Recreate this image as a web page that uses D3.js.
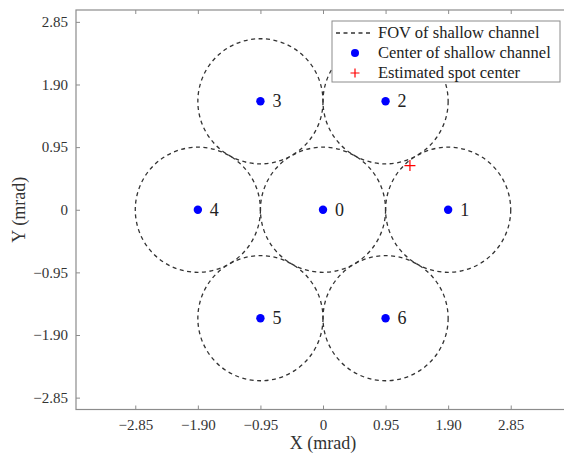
<!DOCTYPE html>
<html>
<head>
<meta charset="utf-8">
<script src="https://cdn.jsdelivr.net/npm/d3@7"></script>
<style>
  body { margin: 0; background: #fff; }
</style>
</head>
<body>
<div id="chart-area"></div>
<script>
const WIDTH = 564;
const HEIGHT = 458;
const SERIF = "Liberation Serif, Times New Roman, serif";
const TICKS = [-2.85, -1.90, -0.95, 0, 0.95, 1.90, 2.85];
const CHANNEL_IDS = ["0", "1", "2", "3", "4", "5", "6"];
const CHANNEL_X = [0, 1.90, 0.95, -0.95, -1.90, -0.95, 0.95];
const CHANNEL_Y = [0, 0, 1.645, 1.645, 0, -1.645, -1.645];
const FOV_RADIUS = 0.95;
const SPOT = [1.32, 0.67];
const LEGEND_LABELS = ["FOV of shallow channel", "Center of shallow channel", "Estimated spot center"];

const svg = d3.select("#chart-area").append("svg")
    .attr("width", WIDTH)
    .attr("height", HEIGHT)
    .attr("font-family", SERIF);

const x = d3.scaleLinear().domain([-3.75, 3.75]).range([76, 570]);
const y = d3.scaleLinear().domain([-3.03, 3.03]).range([409.5, 10]);

const fmt = (d) => d === 0 ? "0" : d3.format(".2f")(d);

// frame (right side falls outside the picture)
const axisColor = "#8c8c8c";
svg.append("rect")
    .attr("x", x(-3.75)).attr("y", y(3.03))
    .attr("width", x(3.75) - x(-3.75))
    .attr("height", y(-3.03) - y(3.03))
    .attr("fill", "none")
    .attr("stroke", axisColor)
    .attr("stroke-width", 1.2);

const bottomAxis = svg.append("g")
    .attr("transform", "translate(0," + y(-3.03) + ")")
    .call(d3.axisBottom(x).tickValues(TICKS).tickFormat(fmt).tickSizeInner(-4).tickSizeOuter(0).tickPadding(10));
const topAxis = svg.append("g")
    .attr("transform", "translate(0," + y(3.03) + ")")
    .call(d3.axisTop(x).tickValues(TICKS).tickFormat("").tickSizeInner(-4).tickSizeOuter(0));
const leftAxis = svg.append("g")
    .attr("transform", "translate(" + x(-3.75) + ",0)")
    .call(d3.axisLeft(y).tickValues(TICKS).tickFormat(fmt).tickSizeInner(-4).tickSizeOuter(0).tickPadding(8));

[bottomAxis, topAxis, leftAxis].forEach((g) => {
    g.attr("font-family", SERIF).attr("font-size", 15);
    g.select(".domain").remove();
    g.selectAll("line").attr("stroke", axisColor);
    g.selectAll("text").attr("fill", "#333");
});

svg.append("text")
    .attr("x", x(0)).attr("y", 449)
    .attr("text-anchor", "middle")
    .attr("fill", "#333")
    .attr("font-size", 18)
    .text("X (mrad)");

svg.append("text")
    .attr("transform", "translate(25," + y(0) + ")rotate(-90)")
    .attr("text-anchor", "middle")
    .attr("fill", "#333")
    .attr("font-size", 18)
    .text("Y (mrad)");

const channels = CHANNEL_IDS.map((id, i) => ({ id: id, x: CHANNEL_X[i], y: CHANNEL_Y[i] }));
const pxPerUnit = x(1) - x(0);

svg.selectAll("circle.fov")
    .data(channels)
    .enter()
    .append("circle")
    .attr("class", "fov")
    .attr("cx", (d) => x(d.x))
    .attr("cy", (d) => y(d.y))
    .attr("r", FOV_RADIUS * pxPerUnit)
    .attr("fill", "none")
    .attr("stroke", "#333")
    .attr("stroke-width", 1.3)
    .attr("stroke-dasharray", "4,3.5");

svg.selectAll("circle.center")
    .data(channels)
    .enter()
    .append("circle")
    .attr("class", "center")
    .attr("cx", (d) => x(d.x))
    .attr("cy", (d) => y(d.y))
    .attr("r", 4.2)
    .attr("fill", "#0000ff");

svg.selectAll("text.id")
    .data(channels)
    .enter()
    .append("text")
    .attr("class", "id")
    .attr("x", (d) => x(d.x) + 12)
    .attr("y", (d) => y(d.y) + 6)
    .attr("fill", "#222")
    .attr("font-size", 18)
    .text((d) => d.id);

function plus(g, cx, cy, s) {
    g.append("path")
        .attr("d", `M${cx - s},${cy}H${cx + s}M${cx},${cy - s}V${cy + s}`)
        .attr("stroke", "#ff0000")
        .attr("stroke-width", 1.2)
        .attr("fill", "none");
}
plus(svg, x(SPOT[0]), y(SPOT[1]), 5.5);

// legend
const legend = svg.append("g");
legend.append("rect")
    .attr("x", 332).attr("y", 21)
    .attr("width", 228).attr("height", 61)
    .attr("fill", "#fff")
    .attr("stroke", axisColor)
    .attr("stroke-width", 1);
const rowY = [33, 53, 73];
legend.append("line")
    .attr("x1", 336).attr("x2", 372)
    .attr("y1", rowY[0]).attr("y2", rowY[0])
    .attr("stroke", "#333")
    .attr("stroke-width", 1.3)
    .attr("stroke-dasharray", "4,3.5");
legend.append("circle")
    .attr("cx", 355).attr("cy", rowY[1])
    .attr("r", 4)
    .attr("fill", "#0000ff");
plus(legend, 355, rowY[2], 4.5);
legend.selectAll("text")
    .data(LEGEND_LABELS)
    .enter()
    .append("text")
    .attr("x", 378)
    .attr("y", (d, i) => rowY[i] + 5)
    .attr("fill", "#222")
    .attr("font-size", 16.5)
    .text((d) => d);
</script>
</body>
</html>
